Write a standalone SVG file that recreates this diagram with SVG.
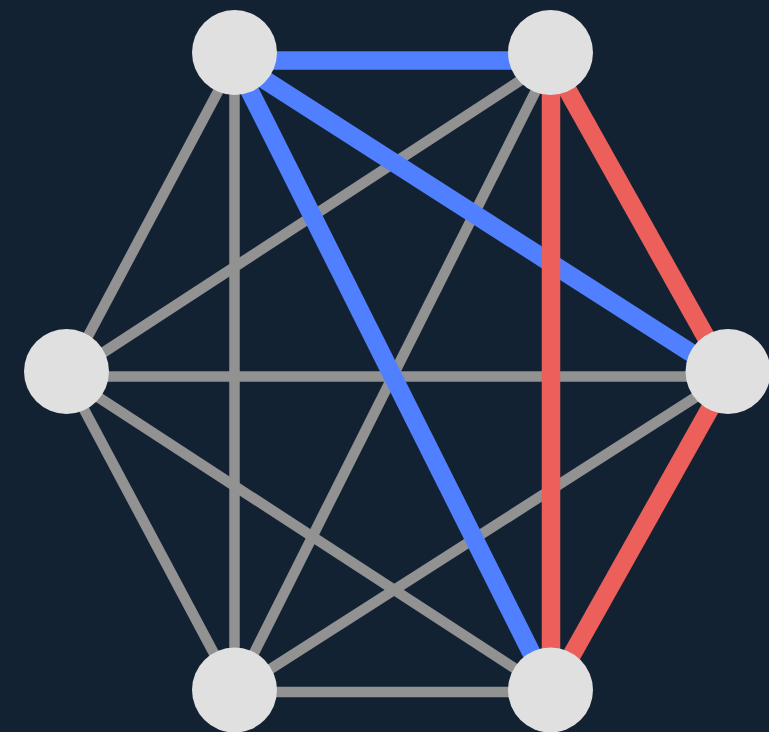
<svg xmlns="http://www.w3.org/2000/svg" width="769" height="732" viewBox="0 0 769 732">
<style>
.e{stroke:#929292;stroke-width:10.5;fill:none}
.b{stroke:#5080ff;stroke-width:18.5;fill:none}
.r{stroke:#ec5f5a;stroke-width:18.5;fill:none}
.n{fill:#e0e0e0}
</style>
<rect width="769" height="732" fill="#132232"/>
<g id="connectors">
<line class="e" x1="234.5" y1="60.5" x2="66.5" y2="376.5"/>
<line class="e" x1="234.5" y1="60.5" x2="234.5" y2="692"/>
<line class="e" x1="551" y1="60.5" x2="66.5" y2="376.5"/>
<line class="e" x1="551" y1="60.5" x2="234.5" y2="692"/>
<line class="e" x1="66.5" y1="376.5" x2="728" y2="376.5"/>
<line class="e" x1="66.5" y1="376.5" x2="234.5" y2="692"/>
<line class="e" x1="66.5" y1="376.5" x2="551" y2="692"/>
<line class="e" x1="728" y1="376.5" x2="234.5" y2="692"/>
<line class="e" x1="234.5" y1="692" x2="551" y2="692"/>
<line class="b" x1="234.5" y1="60.5" x2="551" y2="60.5"/>
<line class="b" x1="234.5" y1="60.5" x2="728" y2="376.5"/>
<line class="b" x1="234.5" y1="60.5" x2="551" y2="692"/>
<line class="r" x1="551" y1="60.5" x2="551" y2="692"/>
<line class="r" x1="551" y1="60.5" x2="728" y2="376.5"/>
<line class="r" x1="728" y1="376.5" x2="551" y2="692"/>
</g>
<g id="n1"><circle class="n" cx="234.5" cy="52.5" r="42.5"/></g>
<g id="n2"><circle class="n" cx="550.5" cy="52.5" r="42.5"/></g>
<g id="n3"><circle class="n" cx="66.5" cy="371.5" r="42.5"/></g>
<g id="n4"><circle class="n" cx="728" cy="371.5" r="42.5"/></g>
<g id="n5"><circle class="n" cx="234.5" cy="690" r="42.5"/></g>
<g id="n6"><circle class="n" cx="550.5" cy="690" r="42.5"/></g>
</svg>
